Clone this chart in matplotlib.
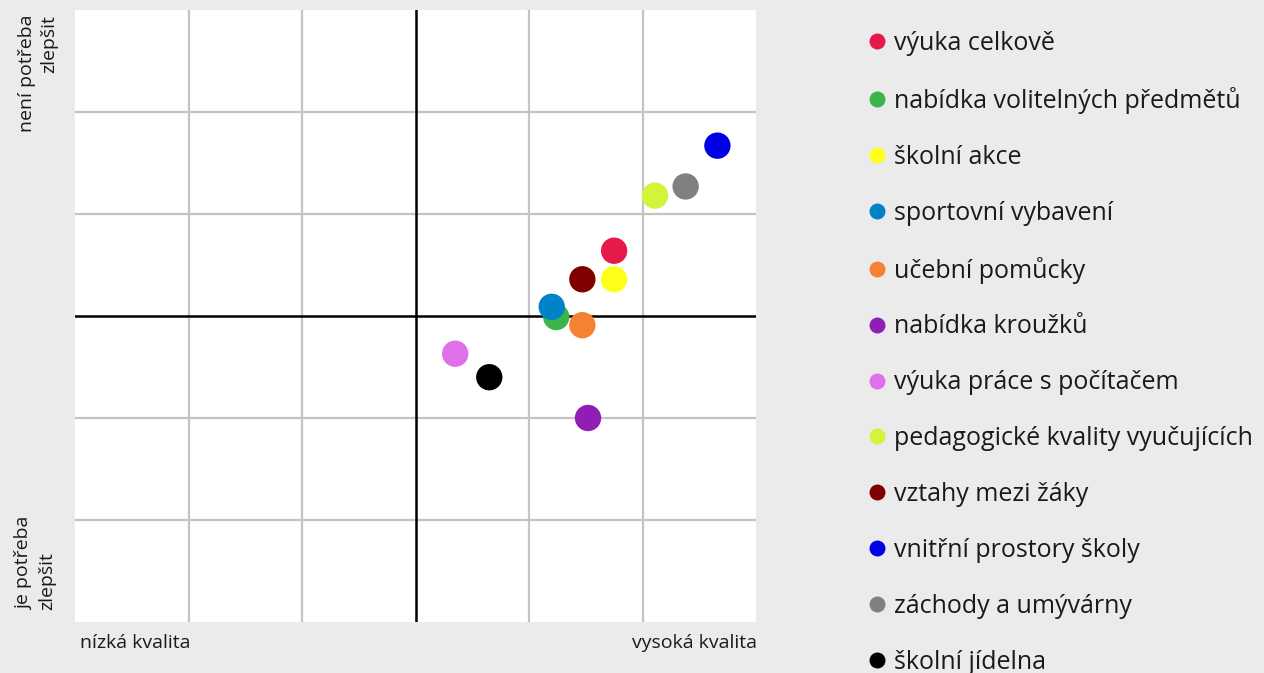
import matplotlib
matplotlib.use("Agg")
import matplotlib.pyplot as plt
from matplotlib.lines import Line2D

plt.rcParams['font.family'] = ['Open Sans', 'DejaVu Sans']

# kvalita (x) vs. potřeba zlepšit (y)
labels = ['výuka celkově', 'nabídka volitelných předmětů', 'školní akce',
          'sportovní vybavení', 'učební pomůcky', 'nabídka kroužků',
          'výuka práce s počítačem', 'pedagogické kvality vyučujících',
          'vztahy mezi žáky', 'vnitřní prostory školy', 'záchody a umývárny',
          'školní jídelna']
quality = [1.75, 1.24, 1.75, 1.20, 1.47, 1.52, 0.35, 2.11, 1.47, 2.66, 2.38, 0.65]
need = [0.64, -0.01, 0.36, 0.09, -0.09, -1.00, -0.37, 1.18, 0.36, 1.67, 1.27, -0.60]
colors = ['#e6194b', '#3cb44b', '#ffff19', '#0082c8', '#f58231', '#911eb4',
          '#e070ea', '#d2f53c', '#800000', '#0000e6', '#808080', '#000000']

bg = '#ebebeb'
fig = plt.figure(figsize=(12.64, 6.73), dpi=100, facecolor=bg)
W, H = 1264, 673
ax = fig.add_axes([75 / W, 1 - 622 / H, 681 / W, 612 / H])
ax.set_facecolor('white')

ax.set_xlim(-3, 3)
ax.set_ylim(-3, 3)
for v in [-2, -1, 1, 2]:
    ax.axvline(v, color='#c4c4c4', lw=1.6, zorder=1)
    ax.axhline(v, color='#c4c4c4', lw=1.6, zorder=1)
ax.axvline(0, color='black', lw=1.8, zorder=2)
ax.axhline(0, color='black', lw=1.8, zorder=2)

# order of drawing so overlaps look like the original
order = [1, 3, 0, 2, 4, 5, 6, 7, 8, 9, 10, 11]
for i in order:
    ax.scatter(quality[i], need[i], s=360, color=colors[i], edgecolors='none', zorder=3)

ax.set_xticks([])
ax.set_yticks([])
for s in ax.spines.values():
    s.set_visible(False)

fs = 14
tc = '#1a1a1a'
fig.text(58 / W, 1 - 15 / H, 'není potřeba\nzlepšit', rotation=90, ha='right', va='top',
         multialignment='right', fontsize=fs, color=tc, linespacing=1.25)
fig.text(56 / W, 1 - 610 / H, 'je potřeba\nzlepšit', rotation=90, ha='right', va='bottom',
         multialignment='left', fontsize=fs, color=tc, linespacing=1.35)
fig.text(80 / W, 1 - 643 / H, 'nízká kvalita', ha='left', va='center', fontsize=fs, color=tc)
fig.text(757 / W, 1 - 643 / H, 'vysoká kvalita', ha='right', va='center', fontsize=fs, color=tc)

handles = [Line2D([], [], marker='o', ls='none', color=c, markersize=11.5, markeredgewidth=0)
           for c in colors]
fig.legend(handles, labels, loc='upper left', bbox_to_anchor=(866 / W, 1 - 31 / H),
           frameon=False, fontsize=18, handletextpad=0.2, labelspacing=1.235,
           handlelength=0.9, borderaxespad=0, borderpad=0, labelcolor=tc)

fig.savefig('out.png', dpi=100, facecolor=bg)
